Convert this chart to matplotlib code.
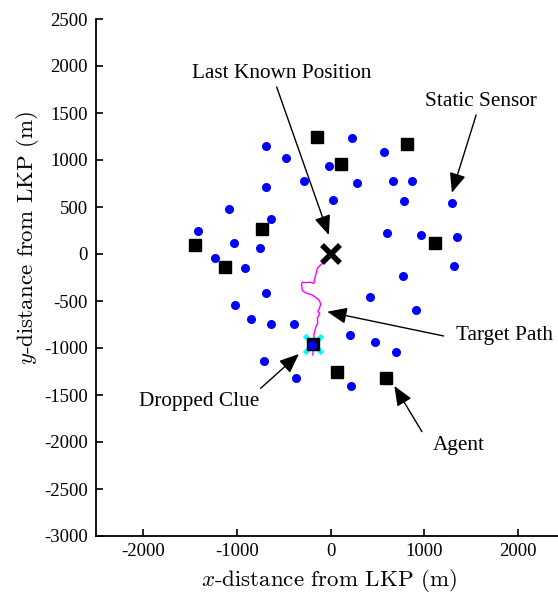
import numpy as np
import matplotlib
matplotlib.use("Agg")
import matplotlib.pyplot as plt

plt.rcParams["font.family"] = "Liberation Serif"
plt.rcParams["mathtext.fontset"] = "cm"
plt.rcParams["axes.unicode_minus"] = False

# static sensors (blue dots), metres from LKP
sensor_x = [-684, -479, 234, -21, 571, -284, 284, 663, 872, -688, 25, 780, 1291,
            -1085, -631, -1411, 606, 968, 1344, -1028, -748, -1230, -915, 1312,
            777, -688, 422, -1018, 911, -848, -631, -390, 213, 479, 699, -202,
            -709, -365, 216]
sensor_y = [1149, 1018, 1237, 936, 1085, 777, 755, 777, 777, 716, 574, 564, 543,
            475, 369, 248, 227, 199, 177, 113, 67, -46, -152, -124,
            -230, -418, -454, -543, -599, -695, -748, -741, -858, -936, -1043, -968,
            -1142, -1323, -1401]

# agents (black squares)
agent_x = [-142, 113, 816, -727, -1440, -1121, 1113, -184, 71, 596]
agent_y = [1248, 957, 1170, 269, 96, -135, 117, -957, -1252, -1316]

# target path (magenta)
path_x = [0, -40, -78, -110, -141, -150, -163, -170, -178, -220, -266, -300, -309,
          -305, -301, -285, -266, -230, -195, -160, -124, -110, -106, -120, -135,
          -114, -128, -141, -135, -150, -160, -170, -178, -175, -178, -185, -188]
path_y = [0, -50, -93, -120, -152, -200, -241, -280, -312, -300, -305, -300, -319,
          -350, -383, -400, -412, -425, -436, -460, -489, -515, -543, -580, -614,
          -631, -660, -684, -737, -760, -790, -830, -862, -920, -968, -1020, -1074]

clue_x, clue_y = -190, -962
lkp_x, lkp_y = 0, 0

fig = plt.figure(figsize=(5.58, 5.95), dpi=100)
ax = fig.add_axes([96 / 558, 59 / 595, 469 / 558, 517 / 595])

ax.plot(path_x, path_y, color="magenta", lw=1.0, zorder=2)
ax.plot(clue_x, clue_y, "x", color="cyan", ms=13, mew=3.5, zorder=3)
ax.plot(agent_x, agent_y, "s", color="black", ms=8, zorder=4)
ax.plot(sensor_x, sensor_y, "o", color="blue", ms=6.5, mec="none", zorder=5)
ax.plot(lkp_x, lkp_y, "x", color="black", ms=13, mew=4, zorder=6)

arrow = dict(arrowstyle="-|>,head_length=0.6,head_width=0.25", color="black",
             lw=1.0, mutation_scale=20, shrinkA=0, shrinkB=0)
notes = [
    ("Last Known Position", (-18, 202), (-521, 1915), (-574, 1777)),
    ("Static Sensor", (1294, 652), (1601, 1620), (1553, 1479)),
    ("Target Path", (-35, -614), (1851, -862), (1206, -872)),
    ("Dropped Clue", (-337, -1064), (-1399, -1571), (-745, -1429)),
    ("Agent", (681, -1404), (1369, -2032), (975, -1890)),
]
for label, tip, txt, tail in notes:
    ax.text(txt[0], txt[1], label, ha="center", va="center", fontsize=15.3)
    ax.annotate("", xy=tip, xytext=tail, arrowprops=arrow)

ax.set_xlim(-2500, 2500)
ax.set_ylim(-3000, 2500)
ax.set_xticks([-2000, -1000, 0, 1000, 2000])
ax.set_yticks(np.arange(-3000, 2501, 500))
ax.tick_params(direction="in", length=5, width=1.2, labelsize=13.5)
ax.tick_params(axis="y", pad=6)
ax.tick_params(axis="x", pad=5)
for side in ["top", "right"]:
    ax.spines[side].set_visible(False)
for side in ["left", "bottom"]:
    ax.spines[side].set_linewidth(1.3)

ax.set_xlabel(r"$x$-distance from LKP (m)", family="cmr10", fontsize=16.5, va="center")
ax.set_ylabel(r"$y$-distance from LKP (m)", family="cmr10", fontsize=16.5, va="center")
ax.xaxis.set_label_coords((329 - 96) / 469, (536 - 581) / 517)
ax.yaxis.set_label_coords((27 - 96) / 469, (536 - 238) / 517)

fig.savefig("out.png", dpi=100)
